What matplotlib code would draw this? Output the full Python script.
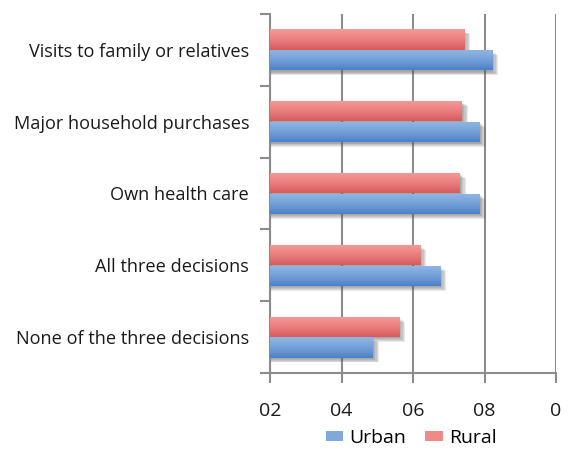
import numpy as np
import matplotlib
matplotlib.use("Agg")
import matplotlib.pyplot as plt
from matplotlib.patches import Patch

categories = ["Visits to family or relatives", "Major household purchases",
              "Own health care", "All three decisions", "None of the three decisions"]
urban = [62.1, 58.7, 58.7, 47.6, 28.8]
rural = [54.3, 53.7, 53.1, 42.0, 36.1]
xticks = [0, 20, 40, 60, 80]
xticklabels = ["02", "04", "06", "08", "0"]

plt.rcParams['font.family'] = ['Open Sans', 'DejaVu Sans']

fig = plt.figure(figsize=(5.71, 4.5), dpi=100)
ax = fig.add_axes([270/571, 77/450, 286/571, 359/450])

y = np.arange(len(categories))
h = 0.28
off = 0.145
grid_col = "#8c8c8c"

# soft drop shadows
for vals, yy in ((rural, y - off), (urban, y + off)):
    vals = np.array(vals)
    for k in range(5):
        dx = 0.3 + k * 0.35
        dy = 0.02 + k * 0.012
        ax.barh(yy + dy, vals + dx, height=h, left=0, color="#555555",
                alpha=0.13, zorder=2, linewidth=0)

bars_r = ax.barh(y - off, rural, height=h, color="#F08A89", zorder=3, linewidth=0)
bars_u = ax.barh(y + off, urban, height=h, color="#7FA8DC", zorder=3, linewidth=0)

def gradient(bars, top, bottom):
    c1 = np.array(matplotlib.colors.to_rgb(top))
    c2 = np.array(matplotlib.colors.to_rgb(bottom))
    t = np.linspace(0, 1, 64)[:, None] ** 1.3
    img = (c1[None, :] * (1 - t) + c2[None, :] * t)[:, None, :]
    for b in bars:
        x0, y0, w, hh = b.get_x(), b.get_y(), b.get_width(), b.get_height()
        im = ax.imshow(img, extent=(x0, x0 + w, y0 + hh, y0), origin="upper",
                       aspect="auto", zorder=4, interpolation="bilinear")
        im.set_clip_path(b)

gradient(bars_r, "#F59796", "#D65A5A")
gradient(bars_u, "#8EB5E3", "#4C80C8")

ax.set_xlim(0, 80)
ax.set_ylim(len(categories) - 0.5, -0.5)

ax.set_xticks(xticks)
ax.set_xticklabels(xticklabels, fontsize=14, color="#1a1a1a")
ax.set_yticks(y)
ax.set_yticklabels(categories, fontsize=13.1, color="#1a1a1a")
ax.set_yticks(np.arange(-0.5, len(categories), 1), minor=True)
ax.tick_params(axis="y", which="major", length=0, pad=15)
ax.tick_params(axis="y", which="minor", length=7, width=1.5, color=grid_col, direction="out")
ax.tick_params(axis="x", length=7, width=1.5, color=grid_col, direction="out", pad=14)

ax.xaxis.grid(True, color=grid_col, linewidth=1.5, zorder=1)
ax.set_axisbelow(True)
for s in ("top", "right"):
    ax.spines[s].set_visible(False)
for s in ("left", "bottom"):
    ax.spines[s].set_color(grid_col)
    ax.spines[s].set_linewidth(1.5)

handles = [Patch(facecolor="#7FA8DC", label="Urban"), Patch(facecolor="#F08A89", label="Rural")]
fig.legend(handles=handles, loc="center", bbox_to_anchor=(411/571, 1 - 438/450), ncol=2,
           frameon=False, fontsize=14, handlelength=0.9, handleheight=0.45,
           handletextpad=0.3, columnspacing=1.0, borderpad=0)

fig.savefig("out.png", dpi=100)
